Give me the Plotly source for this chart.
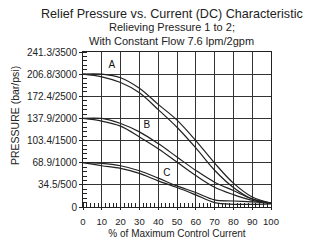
import plotly.graph_objects as go

current = [0, 10, 20, 30, 40, 50, 60, 70, 80, 90, 100]
a_up = [3000, 3000, 2920, 2682, 2318, 1962, 1500, 992, 538, 227, 90]
a_down = [3000, 2940, 2810, 2580, 2200, 1800, 1333, 830, 440, 180, 80]
b_up = [2000, 2000, 1886, 1697, 1432, 1129, 826, 561, 371, 182, 90]
b_down = [2000, 1940, 1826, 1583, 1318, 1015, 712, 447, 280, 150, 80]
c_up = [1000, 985, 932, 818, 652, 477, 326, 160, 136, 114, 90]
c_down = [1000, 932, 871, 758, 591, 440, 273, 99, 60, 60, 70]

ytick_vals = [0, 500, 1000, 1500, 2000, 2500, 3000, 3500]
ytick_text = ["0", "34.5/500", "68.9/1000", "103.4/1500", "137.9/2000",
              "172.4/2500", "206.8/3000", "241.3/3500"]
xtick_vals = [0, 10, 20, 30, 40, 50, 60, 70, 80, 90, 100]

labels = ["A", "B", "C"]
label_x = [15.4, 33.9, 44.6]
label_y = [3190, 1850, 760]

fig = go.Figure()
for ys in [a_up, a_down, b_up, b_down, c_up, c_down]:
    fig.add_trace(go.Scatter(x=current, y=ys, mode="lines", line_shape="spline",
                             line=dict(color="#222222", width=1.2), showlegend=False,
                             hoverinfo="skip"))

fig.add_trace(go.Scatter(x=label_x, y=label_y, mode="text", text=labels,
                         textfont=dict(family="Liberation Sans", size=10, color="#111"),
                         showlegend=False, hoverinfo="skip"))

fig.update_layout(
    width=312, height=241,
    margin=dict(l=83, r=41, t=52, b=34, autoexpand=False),
    paper_bgcolor="white", plot_bgcolor="white",
    font=dict(family="Liberation Sans", size=9.5, color="#222"),
)
tx = 0.473
fig.add_annotation(text="Relief Pressure vs. Current (DC) Characteristic",
                   xref="paper", yref="paper", x=tx, y=1.0, yshift=38,
                   showarrow=False, font=dict(size=12.6, color="#222"), yanchor="middle")
fig.add_annotation(text="Relieving Pressure 1 to 2;", xref="paper", yref="paper",
                   x=tx, y=1.0, yshift=25, showarrow=False,
                   font=dict(size=11, color="#222"), yanchor="middle")
fig.add_annotation(text="With Constant Flow 7.6 lpm/2gpm", xref="paper", yref="paper",
                   x=tx, y=1.0, yshift=11, showarrow=False,
                   font=dict(size=11, color="#222"), yanchor="middle")
fig.add_annotation(text="PRESSURE (bar/psi)", xref="paper", yref="paper",
                   x=0, xshift=-68, y=0.587, textangle=-90, showarrow=False,
                   font=dict(size=10.5, color="#222"), xanchor="center", yanchor="middle")

fig.update_xaxes(range=[0, 100], tickvals=xtick_vals, showgrid=True, gridcolor="#333",
                 gridwidth=1, showline=True, linecolor="#222", linewidth=1, mirror=True,
                 ticks="outside", ticklen=2, tickcolor="#222", zeroline=False, automargin=False,
                 ticklabelstandoff=4,
                 minor=dict(dtick=2, ticks="inside", ticklen=4, tickcolor="#222", showgrid=False),
                 title=dict(text="% of Maximum Control Current", font=dict(size=10), standoff=3))
fig.update_yaxes(range=[0, 3500], tickvals=ytick_vals, ticktext=ytick_text, showgrid=True,
                 gridcolor="#333", gridwidth=1, showline=True, linecolor="#222", linewidth=1,
                 mirror=True, ticks="outside", ticklen=3, tickcolor="#222", zeroline=False,
                 automargin=False, tickfont=dict(size=10),
                 minor=dict(dtick=100, ticks="inside", ticklen=4, tickcolor="#222", showgrid=False))

fig.write_html("out.html", config={"displayModeBar": False},
               post_script="document.body.style.margin='0';")
